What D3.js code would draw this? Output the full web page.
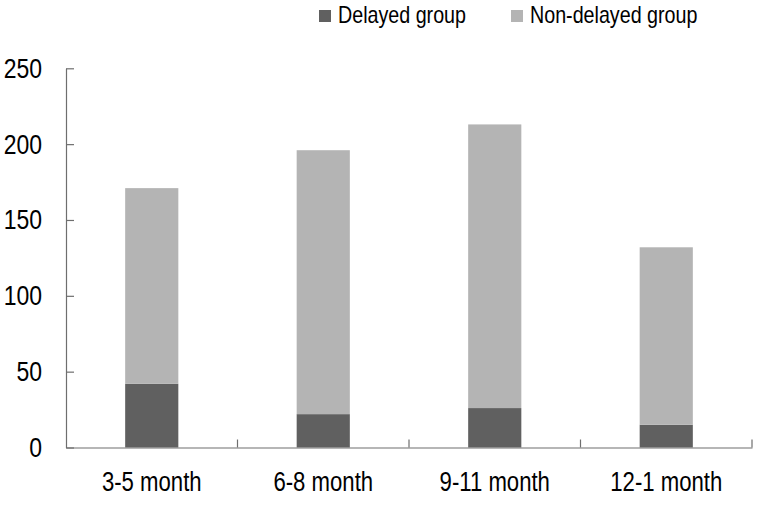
<!DOCTYPE html>
<html>
<head>
<meta charset="utf-8">
<script src="https://cdn.jsdelivr.net/npm/d3@7"></script>
<style>
  html, body { margin: 0; padding: 0; background: #fff; }
  svg { display: block; }
  text { font-family: "Liberation Sans", Arial, sans-serif; fill: #000; }
</style>
</head>
<body>
<svg id="chart" width="759" height="505"></svg>
<script>
const categories = ["3-5 month", "6-8 month", "9-11 month", "12-1 month"];
const delayed = [42, 22, 26, 15];
const nonDelayed = [129, 174, 187, 117];
const seriesNames = ["Delayed group", "Non-delayed group"];
const seriesColors = ["#606060", "#b4b4b4"];
const yTicks = [0, 50, 100, 150, 200, 250];

const svg = d3.select("#chart");
const x0 = 66, x1 = 752, yBottom = 447.5, yTop = 68.3;
const FONT = '"Liberation Sans", Arial, sans-serif';
const NARROW = 0.82;

function condense(sel) {
  sel.each(function() {
    const w = this.getComputedTextLength();
    d3.select(this).attr("textLength", w * NARROW).attr("lengthAdjust", "spacingAndGlyphs");
  });
}

const x = d3.scaleBand().domain(categories).range([x0, x1]).paddingInner(0.69).paddingOuter(0.345);
const y = d3.scaleLinear().domain([0, 250]).range([yBottom, yTop]);

const rows = categories.map((c, i) => ({ cat: c, d: delayed[i], n: nonDelayed[i] }));
const stack = d3.stack().keys(["d", "n"]);
const layers = stack(rows);

svg.append("g").selectAll("g").data(layers).join("g")
  .attr("fill", (d, i) => seriesColors[i])
  .selectAll("rect").data(d => d).join("rect")
  .attr("x", d => x(d.data.cat))
  .attr("width", x.bandwidth())
  .attr("y", d => y(d[1]))
  .attr("height", d => y(d[0]) - y(d[1]));

// Y axis (ticks pointing inward)
const yAxis = svg.append("g").attr("transform", `translate(${x0},0)`)
  .call(d3.axisLeft(y).tickValues(yTicks).tickSizeInner(-8).tickSizeOuter(0).tickPadding(24));
yAxis.select(".domain").attr("stroke", "#6e6e6e").attr("stroke-width", 1.2);
yAxis.selectAll(".tick line").attr("stroke", "#6e6e6e").attr("stroke-width", 1.2);
yAxis.selectAll(".tick text").attr("font-size", 28).attr("fill", "#000").attr("font-family", FONT)
  .call(condense);

// X axis
const xAxis = svg.append("g").attr("transform", `translate(0,${yBottom})`)
  .call(d3.axisBottom(x).tickSize(0).tickPadding(24));
xAxis.select(".domain").attr("stroke", "#6e6e6e").attr("stroke-width", 1.2);
xAxis.selectAll(".tick text").attr("font-size", 27).attr("fill", "#000").attr("font-family", FONT)
  .call(condense);
const boundaries = categories.map(c => x(c) + x.bandwidth() / 2 + x.step() / 2);
xAxis.selectAll("line.sep").data(boundaries).join("line").attr("class", "sep")
  .attr("x1", d => d).attr("x2", d => d).attr("y1", 0).attr("y2", -8)
  .attr("stroke", "#6e6e6e").attr("stroke-width", 1.2);

// Legend
const legendX = [319, 511];
const lg = svg.append("g").selectAll("g").data(seriesNames).join("g")
  .attr("transform", (d, i) => `translate(${legendX[i]},0)`);
lg.append("rect").attr("x", 0).attr("y", 10).attr("width", 12).attr("height", 12)
  .attr("fill", (d, i) => seriesColors[i]);
lg.append("text").attr("x", 19).attr("y", 23).attr("font-size", 24).attr("font-family", FONT)
  .text(d => d).call(condense);
</script>
</body>
</html>
